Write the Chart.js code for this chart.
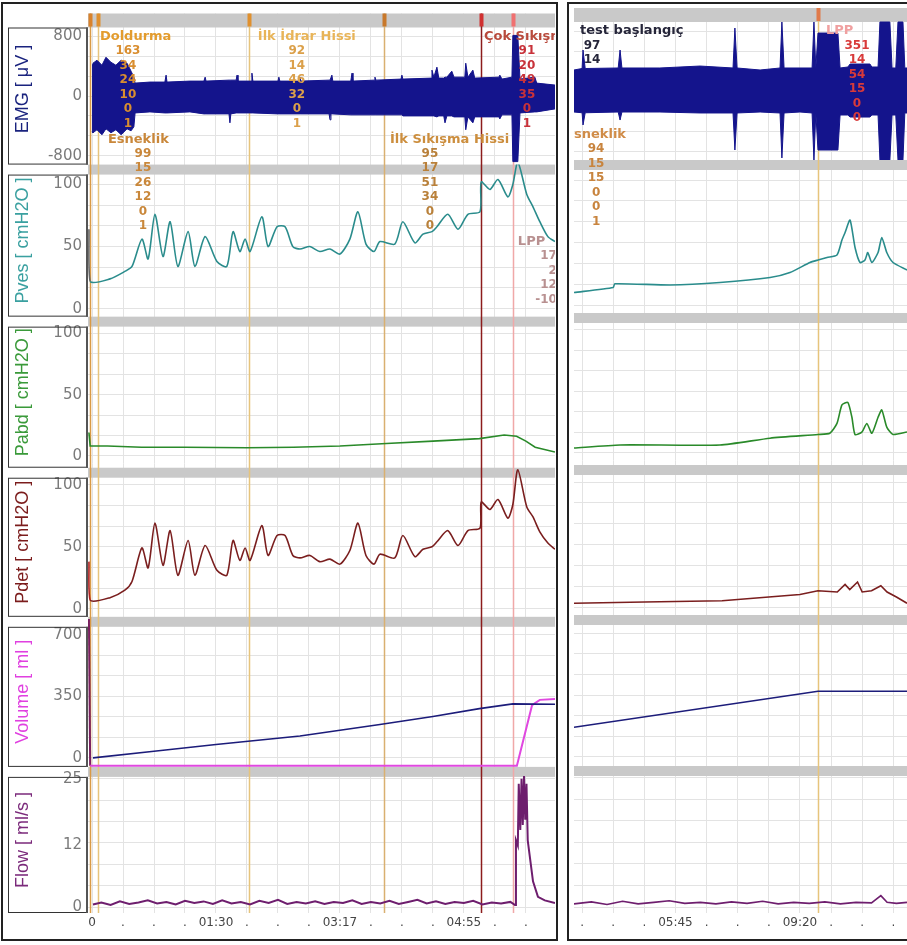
<!DOCTYPE html>
<html>
<head>
<meta charset="utf-8">
<script src="https://cdn.jsdelivr.net/npm/chart.js"></script>
<style>
  body { margin: 0; background: #fff; }
  #left { position: absolute; left: 0; top: 0; }
  #right { position: absolute; left: 566px; top: 0; }
</style>
</head>
<body>
<canvas id="left" width="560" height="945"></canvas>
<canvas id="right" width="341" height="945"></canvas>
<script>
// ---- rows (channels) ----
const rowKeys = ['emg', 'pves', 'pabd', 'pdet', 'vol', 'flow'];
const rowTitles = ['EMG [ μV ]', 'Pves [ cmH2O ]', 'Pabd [ cmH2O ]', 'Pdet [ cmH2O ]', 'Volume [ ml ]', 'Flow [ ml/s ]'];
const rowMin = [-920, -6.4, -9.8, -6.4, -51, -1.16];
const rowMax = [1107, 116, 113.8, 113.6, 802, 27.3];
const rowTickLabels = [[800, 0, -800], [100, 50, 0], [100, 50, 0], [100, 50, 0], [700, 350, 0], [25, 12, 0]];
const rowGridStep = [800 / 3, 100 / 6, 100 / 6, 100 / 6, 700 / 6, 25 / 6];

// ---- time axis (in screen divisions) ----
const leftTicks = [0, 1, 2, 3, 4, 5, 6, 7, 8, 9, 10, 11, 12, 13, 14];
const leftTickLabels = ['0', '.', '.', '.', '01:30', '.', '.', '.', '03:17', '.', '.', '.', '04:55', '.', '.'];
const rightTicks = [0, 1, 2, 3, 4, 5, 6, 7, 8, 9, 10];
const rightTickLabels = ['.', '.', '.', '05:45', '.', '.', '.', '09:20', '.', '.', '.'];

// ---- events / notes ----
const leftEventT = [-0.06, 0.19, 5.06, 9.42, 12.55, 13.58];
const rightEventT = [7.58];
const leftNoteT = [0.19, 0.19, 5.06, 9.42, 12.55, 13.58];
const leftNoteHeads = ['Doldurma', 'Esneklik', 'İlk İdrar Hissi', 'İlk Sıkışma Hissi', 'Çok Sıkışma', 'LPP'];
const leftNoteNums = [
  ['163', '34', '24', '10', '0', '1'],
  ['99', '15', '26', '12', '0', '1'],
  ['92', '14', '46', '32', '0', '1'],
  ['95', '17', '51', '34', '0', '0'],
  ['91', '20', '49', '35', '0', '1'],
  ['17', '2', '12', '-10']
];
const rightNoteT = [0, 0, 7.58];
const rightNoteHeads = ['test başlangıç', 'Esneklik', 'LPP'];
const rightNoteNums = [
  ['97', '14'],
  ['94', '15', '15', '0', '0', '1'],
  ['351', '14', '54', '15', '0', '0']
];

// ---- left panel series ----
const emgT = [0.0, 0.03, 0.16, 0.32, 0.45, 0.61, 0.77, 0.94, 1.13, 1.26, 1.35, 1.39, 1.87, 2.35, 2.39, 2.42, 3.16, 3.61, 3.65, 3.68,
  4.42, 4.45, 4.48, 4.65, 4.68, 4.71, 5.13, 5.16, 5.19, 6.0, 6.03, 6.06, 6.68, 6.71, 6.74, 7.65, 7.68, 7.71, 7.74, 7.77,
  8.35, 8.39, 8.42, 9.10, 9.13, 9.16, 9.97, 10.0, 10.03, 10.94, 10.97, 11.03, 11.13, 11.19, 11.35, 11.39, 11.45, 11.61, 11.68, 12.03,
  12.06, 12.13, 12.29, 12.35, 13.13, 13.16, 13.23, 13.55, 13.58, 13.74, 13.81, 14.29, 14.35, 14.94];
const emgHi = [420, 440, 480, 413, 520, 453, 413, 480, 440, 333, 253, 173, 187, 187, 280, 187, 200, 200, 253, 200,
  213, 213, 213, 213, 280, 200, 200, 307, 200, 200, 253, 200, 200, 253, 200, 213, 213, 213, 280, 200,
  200, 307, 200, 213, 253, 213, 227, 280, 227, 240, 347, 253, 387, 240, 240, 253, 253, 333, 253, 253,
  440, 253, 347, 240, 253, 280, 227, 253, 813, 813, 227, 253, 173, 147];
const emgLo = [-480, -493, -453, -520, -440, -493, -453, -520, -440, -467, -413, -227, -213, -227, -227, -227, -213, -240, -240, -240,
  -240, -360, -240, -227, -227, -227, -227, -227, -227, -240, -240, -240, -240, -240, -240, -240, -320, -240, -240, -240,
  -253, -253, -253, -253, -253, -253, -253, -253, -267, -267, -267, -267, -280, -267, -267, -360, -267, -267, -280, -280,
  -453, -280, -360, -280, -280, -307, -253, -253, -880, -880, -227, -213, -213, -173];

const presT = [-0.10, -0.06, 0.58, 1.06, 1.29, 1.61, 1.81, 2.03, 2.29, 2.52, 2.77, 3.10, 3.32, 3.65, 4.03, 4.35, 4.55, 4.77, 4.94, 5.10,
  5.48, 5.68, 5.97, 6.23, 6.48, 6.71, 7.03, 7.35, 7.68, 8.0, 8.32, 8.58, 8.84, 9.10, 9.29, 9.77, 10.03, 10.42, 10.68, 10.97,
  11.13, 11.48, 11.81, 12.13, 12.52, 12.56, 12.84, 13.10, 13.42, 13.58, 13.74, 14.03, 14.23, 14.45, 14.71, 14.94];
const pvesL = [64, 22, 24, 30, 34, 56, 40, 76, 42, 70, 34, 62, 34, 58, 38, 34, 62, 46, 56, 46,
  74, 50, 66, 66, 50, 48, 50, 46, 48, 44, 56, 78, 52, 46, 54, 52, 70, 53, 60, 62,
  66, 76, 64, 76, 78, 102, 96, 104, 90, 100, 118, 92, 82, 70, 58, 54];
const pdetL = [38, 7, 9, 15, 22, 49, 33, 69, 35, 63, 27, 55, 27, 51, 31, 27, 55, 39, 49, 39,
  67, 43, 59, 59, 43, 41, 43, 38, 40, 36, 47, 69, 43, 36, 44, 41, 59, 42, 48, 50,
  54, 63, 51, 63, 65, 86, 80, 88, 73, 84, 112, 82, 74, 62, 53, 48];
const pabdT = [-0.10, -0.06, 0.5, 1.6, 3.0, 5.0, 6.5, 8.0, 9.5, 11.0, 12.5, 13.3, 13.7, 14.0, 14.3, 14.94];
const pabdL = [19, 8, 8, 7, 7, 6.5, 7, 8, 10, 12, 14, 17, 16, 12, 7, 3];

const volT = [0.03, 2.0, 4.0, 6.71, 9.29, 11.0, 12.5, 13.58, 14.94];
const volL = [0, 38, 76, 125, 190, 235, 280, 307, 305];
const voidT = [-0.10, -0.06, 13.71, 14.2, 14.45, 14.94];
const voidL = [790, -45, -45, 300, 330, 335];

const flowT = [0.03, 0.3, 0.6, 0.9, 1.2, 1.5, 1.8, 2.1, 2.4, 2.7, 3.0, 3.3, 3.6, 3.9, 4.2, 4.5, 4.8, 5.1, 5.4, 5.7,
  6.0, 6.3, 6.6, 6.9, 7.2, 7.5, 7.8, 8.1, 8.4, 8.7, 9.0, 9.3, 9.6, 9.9, 10.2, 10.5, 10.8, 11.1, 11.4, 11.7,
  12.0, 12.3, 12.6, 12.9, 13.2, 13.5, 13.65, 13.68, 13.74, 13.77, 13.82, 13.86, 13.9, 13.94, 13.98, 14.02, 14.06, 14.23, 14.39, 14.61, 14.94];
const flowL = [0.5, 0.9, 0.4, 1.1, 0.6, 0.9, 1.3, 0.7, 1.0, 0.5, 1.2, 0.8, 1.1, 0.6, 1.3, 0.7, 1.0, 0.5, 1.2, 0.8,
  1.4, 0.6, 1.0, 0.7, 1.1, 0.6, 1.0, 0.8, 1.3, 0.6, 1.0, 0.7, 1.2, 0.6, 1.0, 1.4, 0.7, 1.1, 0.6, 1.0,
  0.8, 1.2, 0.5, 0.9, 0.7, 1.0, 0.4, 13, 12, 24, 15, 25, 16, 25.5, 17, 24, 13, 5, 2, 1.3, 0.8];

// ---- right panel series ----
const emgRT = [-0.26, 0.0, 0.03, 0.10, 1.16, 1.22, 1.28, 2.5, 3.79, 4.85, 4.91, 4.98, 5.72, 6.36, 6.42, 6.49, 7.0, 7.39, 7.45, 7.51,
  7.58, 8.22, 8.29, 8.54, 8.61, 9.25, 9.31, 9.51, 9.57, 9.89, 9.96, 10.08, 10.15, 10.31, 10.37, 10.44];
const emgRHi = [280, 300, 547, 300, 307, 547, 307, 307, 333, 307, 840, 307, 280, 307, 920, 307, 307, 307, 920, 307,
  773, 773, 307, 320, 360, 360, 320, 320, 920, 920, 307, 307, 920, 920, 307, 307];
const emgRLo = [-280, -290, -453, -290, -280, -387, -280, -280, -293, -293, -787, -293, -280, -293, -893, -293, -280, -293, -920, -293,
  -787, -787, -320, -320, -347, -347, -320, -320, -920, -920, -320, -320, -920, -920, -293, -293];
const pvesRT = [-0.26, 1.0, 1.05, 2.83, 4.43, 6.04, 6.68, 7.32, 7.58, 7.87, 8.19, 8.35, 8.45, 8.61, 8.77, 8.93, 9.09, 9.18, 9.31, 9.51,
  9.63, 9.79, 9.99, 10.44];
const pvesR = [10, 14, 17, 16, 18, 22, 26, 34, 36, 38, 40, 52, 58, 68, 46, 34, 36, 42, 34, 42, 54, 42, 34, 28];
const pabdRT = [-0.26, 1.22, 4.43, 6.04, 7.58, 7.96, 8.19, 8.35, 8.54, 8.67, 8.77, 8.99, 9.15, 9.31, 9.51, 9.63, 9.79, 9.99, 10.44];
const pabdR = [4, 6.5, 6.5, 12, 15, 16, 24, 39, 41, 29, 15, 17, 24, 16, 29, 35, 21, 15, 17];
const pdetRT = [-0.26, 2.0, 4.5, 6.0, 7.0, 7.58, 8.2, 8.45, 8.6, 8.85, 9.0, 9.3, 9.6, 9.8, 10.1, 10.44];
const pdetR = [3, 4, 5, 8, 10, 13, 12, 18, 14, 20, 12, 13, 17, 12, 8, 3];
const volRT = [-0.26, 7.58, 10.44];
const volR = [168, 371, 371];
const voidRT = [-0.26, 10.44];
const voidR = [-88, -86];
const flowRT = [-0.26, 0.3, 0.8, 1.3, 1.8, 2.3, 2.8, 3.3, 3.8, 4.3, 4.8, 5.3, 5.8, 6.3, 6.8, 7.3, 7.8, 8.3, 8.8, 9.3, 9.6, 9.8, 10.1, 10.44];
const flowR = [0.6, 1.0, 0.5, 1.1, 0.6, 0.9, 1.2, 0.7, 0.9, 0.6, 1.0, 0.7, 1.1, 0.6, 0.9, 0.7, 1.0, 0.6, 0.9, 0.8, 2.2, 0.9, 0.7, 0.9];

// ---- styles / layout ----
const rowTitleColors = ['#1a237e', '#3aa0a0', '#3a9a3a', '#7b1c1c', '#e040e0', '#7b2a7b'];
const rowHeights = [152, 153, 152, 150, 151, 147];
const gridColor = '#e3e3e3';
const barColor = '#c9c9c9';
const C = { emg: '#14148c', pves: '#2a8c8c', pabd: '#2a8a2a', pdet: '#7a1e1e', vol: '#1c1c7a', void: '#e048e0', flow: '#6e1e6e' };

const leftEventStyle = [
  { color: '#d99a45', mark: '#d9822b' },
  { color: '#e6c47c', mark: '#e0902e' },
  { color: '#e6c47c', mark: '#e0902e' },
  { color: '#d9b070', mark: '#c8782a' },
  { color: '#8c1c1c', mark: '#d03030' },
  { color: '#f0a8a8', mark: '#f07070' }
];
const rightEventStyle = [{ color: '#e6c47c', mark: '#e07a4a' }];
const leftNoteStyle = [
  { anchor: 'top', dx: 2, ndx: 30, head: '#e39c2e', num: '#d98e30' },
  { anchor: 'low', dx: 10, ndx: 45, head: '#c9873a', num: '#c9873a' },
  { anchor: 'top', dx: 9, ndx: 48, head: '#e8b458', num: '#dba04a' },
  { anchor: 'low', dx: 6, ndx: 46, head: '#cc8e3e', num: '#b9803a' },
  { anchor: 'top', dx: 3, ndx: 46, head: '#b84a3c', num: '#c8323a' },
  { anchor: 'lpp', dx: 5, ndx: 44, align: 'right', head: '#b89090', num: '#b89090' }
];
const rightNoteStyle = [
  { anchor: 'top', dx: -2, ndx: 10, head: '#26263a', num: '#26263a' },
  { anchor: 'low', dx: -17, ndx: 14, head: '#d08c48', num: '#c8843e' },
  { anchor: 'top', dx: 8, ndx: 39, head: '#f0a0a0', num: '#d83a3a' }
];
const anchors = { top: ['emg', 800], low: ['emg', -580], lpp: ['pves', 54] };

function pts(xs, ys) {
  return xs.map((x, i) => ({ x: x, y: ys[i] }));
}

function rowTicks(i) {
  const st = rowGridStep[i];
  const out = [];
  for (let k = Math.ceil(rowMin[i] / st); k * st <= rowMax[i]; k++) out.push({ value: k * st });
  rowTickLabels[i].forEach(v => {
    if (!out.some(t => Math.abs(t.value - v) < 1e-6)) out.push({ value: v, gridOff: true });
  });
  return out.sort((a, b) => a.value - b.value);
}

function yScales(withLabels) {
  const scales = {};
  rowKeys.forEach((k, i) => {
    scales[k] = {
      type: 'linear',
      position: 'left',
      stack: 'rows',
      stackWeight: rowHeights[i],
      weight: rowKeys.length - i,
      min: rowMin[i],
      max: rowMax[i],
      afterBuildTicks: s => { s.ticks = rowTicks(i); },
      afterFit: s => { s.width = withLabels ? 88 : 8; },
      border: { display: false },
      grid: {
        drawTicks: false,
        color: c => (c.tick && c.tick.gridOff) ? 'rgba(0,0,0,0)' : gridColor
      },
      ticks: {
        display: withLabels,
        autoSkip: false,
        padding: 6,
        color: '#7a7a7a',
        font: { family: 'DejaVu Sans', size: 15, lineHeight: 1 },
        callback: v => {
          const l = rowTickLabels[i].find(t => Math.abs(t - v) < 1e-6);
          return l === undefined ? '' : String(l);
        }
      },
      title: {
        display: withLabels,
        text: rowTitles[i],
        color: rowTitleColors[i],
        font: { family: 'Liberation Sans', size: 18 },
        padding: { top: 12, bottom: 0 }
      }
    };
  });
  return scales;
}

function xScale(min, max, ticks, labels) {
  return {
    type: 'linear',
    min: min,
    max: max,
    afterBuildTicks: s => { s.ticks = ticks.map(v => ({ value: v })); },
    afterFit: s => { s.height = 32; },
    border: { display: false },
    grid: { color: gridColor, drawTicks: false },
    ticks: {
      autoSkip: false,
      maxRotation: 0,
      padding: 3,
      color: '#444',
      font: { family: 'DejaVu Sans', size: 12 },
      callback: (v, i) => labels[i]
    }
  };
}

const decor = {
  id: 'decor',
  beforeDatasetsDraw(chart, args, opts) {
    const { ctx, chartArea: a } = chart;
    const xs = chart.scales.x;
    ctx.save();
    rowKeys.forEach((k, i) => {
      const s = chart.scales[k];
      ctx.fillStyle = barColor;
      ctx.fillRect(a.left, s.top, a.right - a.left, i === 0 ? 14 : 10);
    });
    opts.eventT.forEach((t, i) => {
      const st = opts.eventStyle[i];
      const px = Math.round(xs.getPixelForValue(t)) + 0.5;
      ctx.strokeStyle = st.color;
      ctx.lineWidth = 1.5;
      ctx.beginPath();
      ctx.moveTo(px, a.top);
      ctx.lineTo(px, a.bottom);
      ctx.stroke();
      ctx.fillStyle = st.mark;
      ctx.fillRect(px - 2, a.top, 4, 13);
    });
    ctx.restore();
  },
  afterDatasetsDraw(chart, args, opts) {
    const { ctx, chartArea: a } = chart;
    const xs = chart.scales.x;
    ctx.save();
    ctx.beginPath();
    ctx.rect(a.left, a.top, a.right - a.left, a.bottom - a.top);
    ctx.clip();
    ctx.textBaseline = 'middle';
    opts.noteT.forEach((t, i) => {
      const st = opts.noteStyle[i];
      const an = anchors[st.anchor];
      const x0 = xs.getPixelForValue(t);
      const y0 = chart.scales[an[0]].getPixelForValue(an[1]);
      ctx.font = 'bold 13px "DejaVu Sans"';
      ctx.textAlign = 'left';
      ctx.fillStyle = st.head;
      ctx.fillText(opts.heads[i], x0 + st.dx, y0);
      ctx.font = 'bold 12px "DejaVu Sans"';
      ctx.textAlign = st.align || 'center';
      ctx.fillStyle = st.num;
      opts.nums[i].forEach((n, j) => ctx.fillText(n, x0 + st.ndx, y0 + 14.5 * (j + 1)));
    });
    ctx.restore();
  },
  afterDraw(chart, args, opts) {
    const { ctx, chartArea: a } = chart;
    ctx.save();
    if (opts.boxes) {
      rowKeys.forEach((k, i) => {
        const s = chart.scales[k];
        const top = s.top + (i === 0 ? 14 : 10);
        ctx.strokeStyle = '#333';
        ctx.lineWidth = 1;
        ctx.strokeRect(8.5, top + 0.5, a.left - 9, s.bottom - top - 1);
        ctx.fillStyle = '#555';
        ctx.fillRect(a.left - 2, top, 2, s.bottom - top);
      });
    }
    ctx.strokeStyle = '#222';
    ctx.lineWidth = 2;
    ctx.strokeRect(2, 3, opts.frameW, 937);
    ctx.restore();
  }
};

function lineDs(data, axis, color, width, extra) {
  return Object.assign({
    data: data, yAxisID: axis, borderColor: color, backgroundColor: color,
    borderWidth: width, pointRadius: 0, tension: 0, fill: false
  }, extra || {});
}

const firstSeg = col => ({ borderColor: c => c.p0DataIndex === 0 ? col : undefined });

new Chart(document.getElementById('left'), {
  type: 'line',
  data: {
    datasets: [
      lineDs(pts(emgT, emgHi), 'emg', C.emg, 1, { fill: '+1' }),
      lineDs(pts(emgT, emgLo), 'emg', C.emg, 1),
      lineDs(pts(presT, pvesL), 'pves', C.pves, 1.6, { segment: firstSeg('#666'), tension: 0.25 }),
      lineDs(pts(pabdT, pabdL), 'pabd', C.pabd, 1.6),
      lineDs(pts(presT, pdetL), 'pdet', C.pdet, 1.6, { segment: firstSeg('#b02020'), tension: 0.25 }),
      lineDs(pts(volT, volL), 'vol', C.vol, 1.6),
      lineDs(pts(voidT, voidL), 'vol', C.void, 2, { segment: firstSeg('#7a2060') }),
      lineDs(pts(flowT, flowL), 'flow', C.flow, 2)
    ]
  },
  options: {
    responsive: false,
    animation: false,
    events: [],
    layout: { padding: { top: 8, left: 0, right: 5, bottom: 0 } },
    scales: Object.assign({ x: xScale(-0.13, 14.94, leftTicks, leftTickLabels) }, yScales(true)),
    plugins: {
      legend: { display: false },
      tooltip: { enabled: false },
      decor: {
        eventT: leftEventT, eventStyle: leftEventStyle,
        noteT: leftNoteT, noteStyle: leftNoteStyle, heads: leftNoteHeads, nums: leftNoteNums,
        boxes: true, frameW: 555
      }
    }
  },
  plugins: [decor]
});

new Chart(document.getElementById('right'), {
  type: 'line',
  data: {
    datasets: [
      lineDs(pts(emgRT, emgRHi), 'emg', C.emg, 1, { fill: '+1' }),
      lineDs(pts(emgRT, emgRLo), 'emg', C.emg, 1),
      lineDs(pts(pvesRT, pvesR), 'pves', C.pves, 1.6, { tension: 0.2 }),
      lineDs(pts(pabdRT, pabdR), 'pabd', C.pabd, 1.6, { tension: 0.2 }),
      lineDs(pts(pdetRT, pdetR), 'pdet', C.pdet, 1.6),
      lineDs(pts(volRT, volR), 'vol', C.vol, 1.6),
      lineDs(pts(voidRT, voidR), 'vol', '#e070e0', 5),
      lineDs(pts(flowRT, flowR), 'flow', C.flow, 1.6)
    ]
  },
  options: {
    responsive: false,
    animation: false,
    events: [],
    layout: { padding: { top: 8, left: 0, right: 0, bottom: 0 } },
    scales: Object.assign({ x: xScale(-0.26, 10.44, rightTicks, rightTickLabels) }, yScales(false)),
    plugins: {
      legend: { display: false },
      tooltip: { enabled: false },
      decor: {
        eventT: rightEventT, eventStyle: rightEventStyle,
        noteT: rightNoteT, noteStyle: rightNoteStyle, heads: rightNoteHeads, nums: rightNoteNums,
        boxes: false, frameW: 360
      }
    }
  },
  plugins: [decor]
});
</script>
</body>
</html>
